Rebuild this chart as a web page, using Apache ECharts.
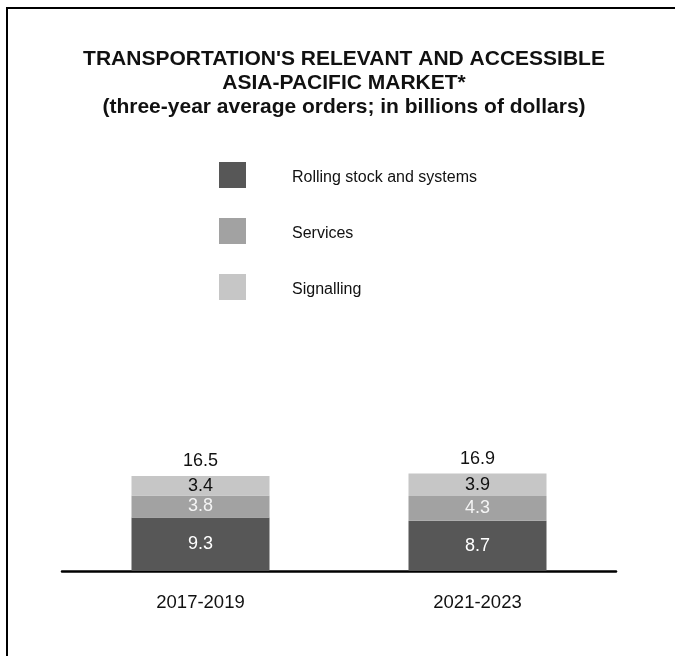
<!DOCTYPE html>
<html>
<head>
<meta charset="utf-8">
<title>Transportation's relevant and accessible Asia-Pacific market</title>
<script src="https://cdn.jsdelivr.net/npm/echarts@6/dist/echarts.min.js"></script>
<style>
  html, body { margin: 0; padding: 0; background: #fff; }
  #chart { width: 675px; height: 656px; }
</style>
</head>
<body>
<div id="chart"></div>
<script>
// Three-year average orders, billions of dollars
const categories = ['2017-2019', '2021-2023'];
const rollingStock = [9.3, 8.7];
const services = [3.8, 4.3];
const signalling = [3.4, 3.9];
const totals = [16.5, 16.9];

const seriesNames = ['Rolling stock and systems', 'Services', 'Signalling'];
const FONT = '"Liberation Sans", Arial, Helvetica, sans-serif';

const chart = echarts.init(document.getElementById('chart'), null, { renderer: 'canvas' });

const labelBase = {
  show: true,
  position: 'inside',
  fontFamily: FONT,
  fontSize: 18,
  formatter: p => p.value.toFixed(1)
};

chart.setOption({
  backgroundColor: '#ffffff',
  animation: false,
  graphic: [
    {
      type: 'rect',
      shape: { x: 7, y: 8, width: 760, height: 760 },
      style: { fill: 'none', stroke: '#000', lineWidth: 2 },
      silent: true
    },
    {
      type: 'text',
      x: 344,
      y: 83,
      style: {
        text: "TRANSPORTATION'S RELEVANT AND ACCESSIBLE\nASIA-PACIFIC MARKET*\n(three-year average orders; in billions of dollars)",
        font: 'bold 21px ' + FONT,
        lineHeight: 24,
        fill: '#111',
        textAlign: 'center',
        textVerticalAlign: 'middle'
      }
    }
  ],
  legend: {
    orient: 'vertical',
    left: 219,
    top: 162,
    padding: 0,
    itemWidth: 27,
    itemHeight: 26,
    itemGap: 30,
    icon: 'rect',
    data: seriesNames,
    selectedMode: false,
    // a thin spacer line sits the name a little below the swatch centre
    formatter: name => '{s|}\n{n|' + name + '}',
    textStyle: {
      fontFamily: FONT,
      fontSize: 16,
      color: '#111',
      padding: [0, 0, 0, 41],
      rich: {
        s: { fontSize: 1, lineHeight: 6 },
        n: { fontFamily: FONT, fontSize: 16, lineHeight: 18, color: '#111' }
      }
    }
  },
  grid: { left: 62, right: 59, top: 110, bottom: 85 },
  xAxis: {
    type: 'category',
    data: categories,
    axisLine: { lineStyle: { color: '#000', width: 2.5 } },
    axisTick: { show: false },
    axisLabel: { fontFamily: FONT, fontSize: 18.5, color: '#111', margin: 22 }
  },
  yAxis: {
    type: 'value',
    min: 0,
    max: 80,
    show: false,
    splitLine: { show: false }
  },
  series: [
    {
      name: seriesNames[0],
      type: 'bar',
      stack: 'market',
      barWidth: 138,
      data: rollingStock,
      itemStyle: { color: '#575757' },
      label: Object.assign({}, labelBase, { color: '#ffffff' })
    },
    {
      name: seriesNames[1],
      type: 'bar',
      stack: 'market',
      barWidth: 138,
      data: services,
      itemStyle: { color: '#a2a2a2' },
      label: Object.assign({}, labelBase, { color: '#f4f4f4' })
    },
    {
      name: seriesNames[2],
      type: 'bar',
      stack: 'market',
      barWidth: 138,
      data: signalling,
      itemStyle: { color: '#c6c6c6' },
      label: Object.assign({}, labelBase, { color: '#111111' })
    },
    {
      // zero-height cap carrying the total above each stack
      name: 'Total',
      type: 'bar',
      stack: 'market',
      barWidth: 138,
      data: totals.map(() => 0),
      itemStyle: { color: 'transparent' },
      label: {
        show: true,
        position: 'top',
        distance: 6,
        fontFamily: FONT,
        fontSize: 18,
        color: '#111111',
        formatter: p => totals[p.dataIndex].toFixed(1)
      }
    }
  ]
});
</script>
</body>
</html>
